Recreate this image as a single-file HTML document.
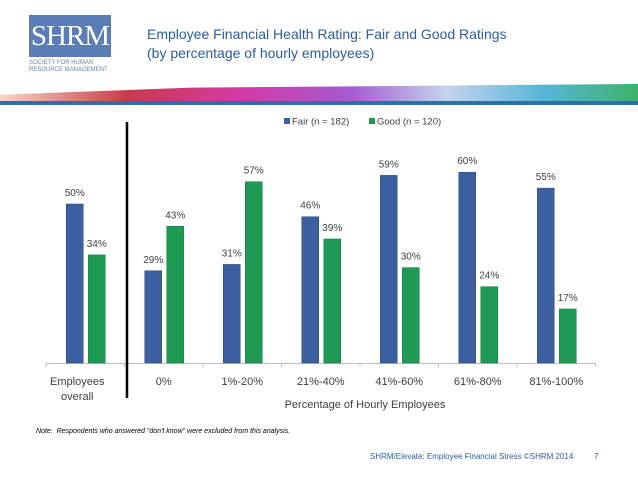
<!DOCTYPE html>
<html><head><meta charset="utf-8"><style>
body{margin:0;width:638px;height:479px;background:#fff;font-family:"Liberation Sans",sans-serif;overflow:hidden;position:relative}
.abs{position:absolute}
</style></head><body>
<div class="abs" style="left:29px;top:15px;width:82px;height:42px;background:#5b7db5;color:#fff;font-family:'Liberation Serif',serif;font-size:29px;line-height:42px;text-align:center;letter-spacing:-1px;overflow:hidden">SHRM</div>
<div class="abs" style="left:29px;top:60px;font-size:6px;color:#6b7fa8;line-height:7px">SOCIETY FOR HUMAN<br>RESOURCE MANAGEMENT</div>
<div class="abs" style="left:147px;top:25px;font-size:14px;color:#2e5d9c;line-height:19px">Employee Financial Health Rating: Fair and Good Ratings<br>(by percentage of hourly employees)</div>
<div class="abs" style="left:0;top:84px;width:638px;height:18px;background:linear-gradient(90deg,#f4d9c8 0%,#c93a4e 20%,#d43aa6 38%,#a45bd0 55%,#c5d3ee 70%,#56b6d8 85%,#3cb36a 100%);clip-path:polygon(0 60%,30% 20%,100% 0,100% 100%,0 100%)"></div>
<div class="abs" style="left:0;top:101px;width:638px;height:4px;background:#2e6fa8"></div>
<svg class="abs" style="left:0;top:0" width="638" height="479" id="chart"></svg>
<div class="abs" style="left:36px;top:428px;font-size:7px;font-style:italic;color:#000">Note:&nbsp; Respondents who answered "don't know" were excluded from this analysis.</div>
<div class="abs" style="left:370px;top:452px;font-size:8px;color:#2e5d9c">SHRM/Elevate: Employee Financial Stress ©SHRM 2014</div>
<div class="abs" style="left:594px;top:452px;font-size:8px;color:#2e5d9c">7</div>
<script>
const categories=["Employees|overall","0%","1%-20%","21%-40%","41%-60%","61%-80%","81%-100%"];
const fairValues=[50,29,31,46,59,60,55];
const goodValues=[34,43,57,39,30,24,17];
const svg=document.getElementById('chart');
const NS='http://www.w3.org/2000/svg';
const x0=46,step=78.5,base=363,ppp=3.18;
const xc=i=>x0+step*(i+0.5);
const y=v=>base-v*ppp;
function mk(t,a){const e=document.createElementNS(NS,t);for(const k in a)e.setAttribute(k,a[k]);svg.appendChild(e);return e;}
function txt(x,yy,s,size,anchor){const e=mk('text',{x:x,y:yy,'font-size':size,'text-anchor':anchor||'middle',fill:'#404040','font-family':'Liberation Sans, sans-serif'});e.textContent=s;return e;}
const ax=mk('line',{x1:x0,y1:base+0.5,x2:x0+step*7,y2:base+0.5,stroke:'#bfbfbf'});


for(let i=0;i<=7;i++){const t=mk('line',{x1:x0+step*i,y1:base,x2:x0+step*i,y2:base+4,stroke:'#bfbfbf'});

}
categories.forEach((c,i)=>{
 const cx=xc(i);
 const f=mk('rect',{x:cx-19,y:y(fairValues[i]),width:17,height:fairValues[i]*ppp,fill:'#3b5fa0',stroke:'#2d4a80','stroke-width':0.5});
 
 
 const g=mk('rect',{x:cx+3,y:y(goodValues[i]),width:17,height:goodValues[i]*ppp,fill:'#1e9a55',stroke:'#147a40','stroke-width':0.5});
 
 
 const l1=txt(cx-10.5,y(fairValues[i])-8,fairValues[i]+'%',10);
 
 
 const l2=txt(cx+11.5,y(goodValues[i])-8,goodValues[i]+'%',10);
 
 
 c.split('|').forEach((p,j)=>{const t=txt(i==0?cx-8:cx,base+22+j*15,p,11);
 
 });
});
const t=txt(365,408,'Percentage of Hourly Employees',11);


const div=mk('line',{x1:127,y1:122,x2:127,y2:398,stroke:'#000','stroke-width':2.5});


const lf=mk('rect',{x:284,y:118,width:6,height:6,fill:'#3b5fa0'});


const lt=txt(292,124.5,'Fair (n = 182)',9.5,'start');


const lg=mk('rect',{x:369,y:118,width:6,height:6,fill:'#1e9a55'});


const lt2=txt(377,124.5,'Good (n = 120)',9.5,'start');


</script>
</body></html>
